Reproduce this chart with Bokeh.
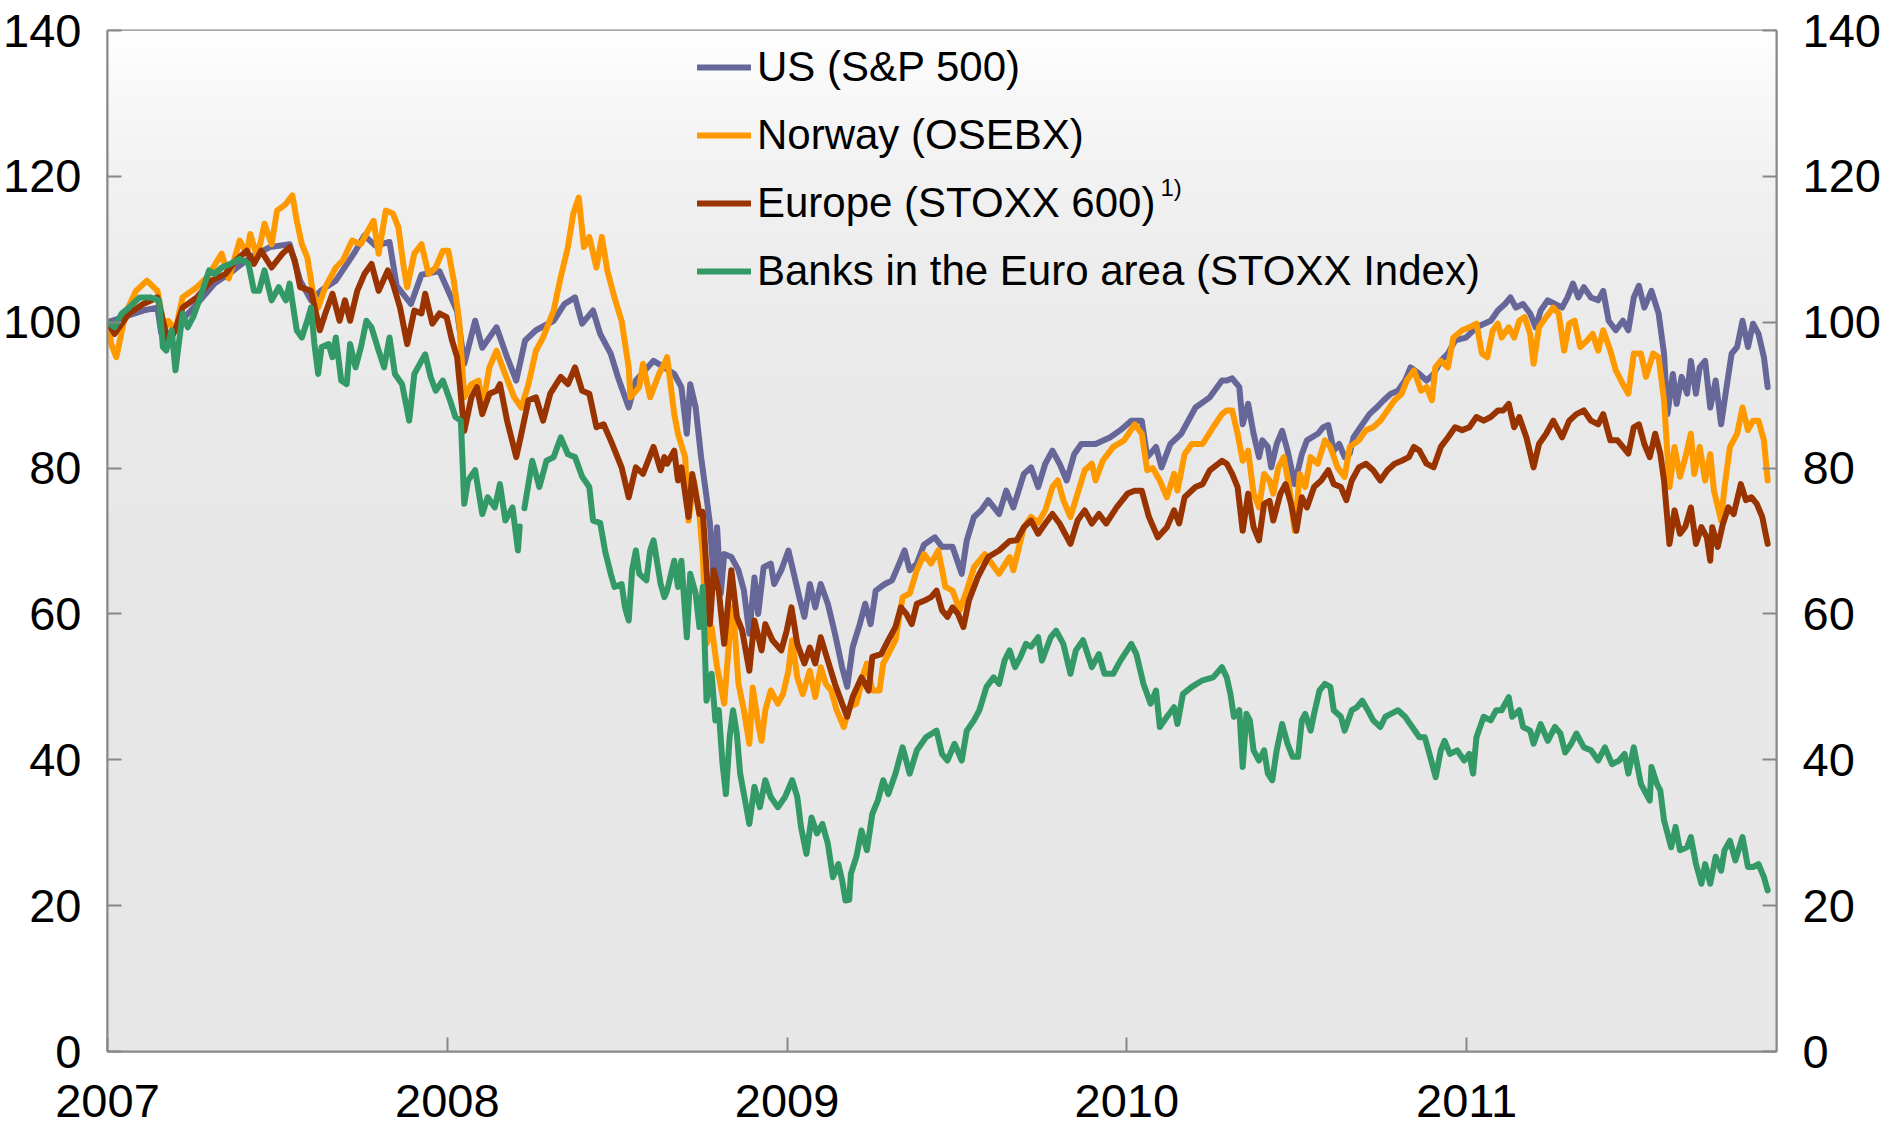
import numpy as np
from bokeh.plotting import figure
from bokeh.models import (Range1d, LinearAxis, FixedTicker, Legend, LegendItem, Label)
from bokeh.embed import file_html
from bokeh.resources import INLINE

nan = float("nan")

# ---------------- data (decimal years, index values) ----------------
us_t = [2007.000, 2007.053, 2007.105, 2007.147, 2007.158, 2007.173, 2007.194, 2007.263, 2007.315, 2007.368,
        2007.420, 2007.478, 2007.536, 2007.567, 2007.599, 2007.630, 2007.672, 2007.725, 2007.756, 2007.788,
        2007.830, 2007.851, 2007.893, 2007.924, 2007.977, 2007.998, 2008.029, 2008.050, 2008.082, 2008.103,
        2008.145, 2008.176, 2008.203, 2008.229, 2008.261, 2008.313, 2008.345, 2008.376, 2008.397, 2008.429,
        2008.450, 2008.481, 2008.502, 2008.534, 2008.555, 2008.607, 2008.639, 2008.668, 2008.689, 2008.705,
        2008.715, 2008.731, 2008.747, 2008.763, 2008.773, 2008.784, 2008.794, 2008.805, 2008.815, 2008.836,
        2008.857, 2008.873, 2008.889, 2008.904, 2008.915, 2008.931, 2008.952, 2008.962, 2008.983, 2009.004,
        2009.036, 2009.051, 2009.067, 2009.083, 2009.099, 2009.120, 2009.141, 2009.162, 2009.177, 2009.193,
        2009.214, 2009.230, 2009.246, 2009.261, 2009.288, 2009.309, 2009.330, 2009.346, 2009.361, 2009.382,
        2009.403, 2009.435, 2009.456, 2009.487, 2009.514, 2009.529, 2009.550, 2009.571, 2009.592, 2009.624,
        2009.645, 2009.666, 2009.697, 2009.718, 2009.739, 2009.760, 2009.781, 2009.802, 2009.823, 2009.845,
        2009.866, 2009.908, 2009.950, 2009.981, 2010.013, 2010.044, 2010.060, 2010.086, 2010.102, 2010.128,
        2010.160, 2010.202, 2010.244, 2010.280, 2010.294, 2010.310, 2010.331, 2010.341, 2010.357, 2010.373,
        2010.389, 2010.399, 2010.415, 2010.425, 2010.441, 2010.457, 2010.473, 2010.494, 2010.515, 2010.530,
        2010.562, 2010.578, 2010.593, 2010.609, 2010.625, 2010.641, 2010.656, 2010.667, 2010.693, 2010.714,
        2010.735, 2010.756, 2010.777, 2010.798, 2010.819, 2010.835, 2010.861, 2010.882, 2010.903, 2010.924,
        2010.945, 2010.966, 2010.998, 2011.029, 2011.071, 2011.092, 2011.113, 2011.129, 2011.145, 2011.166,
        2011.187, 2011.203, 2011.218, 2011.239, 2011.260, 2011.281, 2011.297, 2011.313, 2011.329, 2011.345,
        2011.366, 2011.387, 2011.402, 2011.418, 2011.439, 2011.460, 2011.476, 2011.492, 2011.507, 2011.523,
        2011.544, 2011.565, 2011.581, 2011.591, 2011.607, 2011.618, 2011.633, 2011.649, 2011.660, 2011.675,
        2011.686, 2011.702, 2011.717, 2011.733, 2011.749, 2011.765, 2011.780, 2011.796, 2011.812, 2011.828,
        2011.843, 2011.859, 2011.875, 2011.886]
us_v = [100.0, 100.8, 101.6, 102.0, 98.5, 98.0, 99.0, 102.5, 105.3, 107.0,
        108.9, 110.3, 110.7, 105.7, 103.0, 104.4, 105.7, 109.4, 111.9, 110.5,
        111.0, 105.0, 102.5, 106.5, 107.0, 104.8, 101.5, 94.3, 100.2, 96.5,
        99.3, 95.2, 92.0, 97.5, 98.9, 100.2, 102.5, 103.4, 99.8, 101.6,
        98.4, 95.7, 92.5, 88.3, 92.0, 94.7, 93.8, 92.9, 91.1, 84.7,
        91.5, 88.3, 81.5, 76.0, 72.4, 65.0, 71.9, 62.8, 68.2, 67.8,
        66.0, 63.2, 57.3, 65.0, 60.0, 66.4, 66.9, 64.1, 66.0, 68.7,
        62.3, 59.6, 64.1, 60.9, 64.1, 61.4, 57.3, 52.7, 50.0, 55.4,
        58.6, 61.4, 58.6, 63.2, 64.1, 64.6, 66.9, 68.7, 66.0, 66.9,
        69.5, 70.5, 69.2, 69.2, 65.5, 70.1, 73.3, 74.2, 75.6, 73.7,
        76.9, 74.6, 79.2, 80.1, 77.4, 80.6, 82.4, 80.6, 78.3, 81.9,
        83.3, 83.3, 84.2, 85.2, 86.5, 86.5, 81.5, 82.9, 80.1, 83.3,
        84.7, 88.3, 89.7, 92.0, 92.0, 92.3, 91.1, 86.0, 88.8, 84.7,
        81.5, 83.8, 82.9, 80.1, 83.3, 85.1, 82.4, 77.8, 81.9, 83.8,
        84.7, 85.6, 85.9, 82.4, 83.3, 81.5, 82.0, 84.2, 86.0, 87.4,
        88.3, 89.3, 90.2, 90.6, 92.0, 93.8, 92.9, 92.0, 92.9, 94.7,
        95.7, 97.5, 97.9, 99.3, 100.2, 101.6, 102.5, 103.4, 102.0, 102.5,
        101.2, 99.3, 101.6, 103.0, 102.5, 102.0, 103.4, 105.3, 103.4, 104.8,
        103.4, 103.0, 104.3, 100.2, 98.9, 100.2, 98.9, 103.4, 105.0, 102.0,
        104.3, 101.2, 95.7, 87.4, 92.9, 88.8, 92.5, 90.2, 94.7, 90.2,
        93.8, 94.7, 88.3, 92.0, 86.0, 91.1, 95.7, 96.6, 100.2, 96.6,
        99.8, 98.4, 95.2, 91.1]

no_t = [2007.000, 2007.011, 2007.026, 2007.053, 2007.084, 2007.116, 2007.147, 2007.168, 2007.179, 2007.200,
        2007.221, 2007.263, 2007.294, 2007.336, 2007.357, 2007.389, 2007.410, 2007.420, 2007.441, 2007.462,
        2007.483, 2007.499, 2007.525, 2007.544, 2007.557, 2007.572, 2007.588, 2007.604, 2007.620, 2007.641,
        2007.672, 2007.693, 2007.720, 2007.746, 2007.767, 2007.783, 2007.798, 2007.819, 2007.840, 2007.856,
        2007.872, 2007.882, 2007.903, 2007.924, 2007.945, 2007.966, 2007.987, 2008.003, 2008.019, 2008.035,
        2008.050, 2008.071, 2008.092, 2008.103, 2008.124, 2008.145, 2008.166, 2008.197, 2008.218, 2008.239,
        2008.261, 2008.282, 2008.313, 2008.334, 2008.355, 2008.371, 2008.387, 2008.402, 2008.418, 2008.439,
        2008.455, 2008.471, 2008.492, 2008.513, 2008.534, 2008.539, 2008.565, 2008.576, 2008.597, 2008.623,
        2008.639, 2008.647, 2008.668, 2008.679, 2008.700, 2008.710, 2008.726, 2008.742, 2008.752, 2008.763,
        2008.778, 2008.794, 2008.815, 2008.831, 2008.841, 2008.857, 2008.873, 2008.889, 2008.899, 2008.915,
        2008.925, 2008.936, 2008.952, 2008.973, 2008.988, 2009.004, 2009.015, 2009.030, 2009.046, 2009.067,
        2009.083, 2009.099, 2009.114, 2009.130, 2009.146, 2009.167, 2009.183, 2009.204, 2009.225, 2009.235,
        2009.251, 2009.272, 2009.283, 2009.298, 2009.319, 2009.340, 2009.361, 2009.382, 2009.403, 2009.424,
        2009.445, 2009.466, 2009.487, 2009.508, 2009.529, 2009.550, 2009.582, 2009.624, 2009.655, 2009.666,
        2009.697, 2009.718, 2009.739, 2009.760, 2009.781, 2009.797, 2009.813, 2009.834, 2009.855, 2009.876,
        2009.897, 2009.908, 2009.929, 2009.960, 2009.992, 2010.023, 2010.044, 2010.060, 2010.076, 2010.097,
        2010.118, 2010.139, 2010.149, 2010.170, 2010.191, 2010.223, 2010.254, 2010.280, 2010.294, 2010.310,
        2010.326, 2010.341, 2010.357, 2010.373, 2010.389, 2010.404, 2010.420, 2010.431, 2010.446, 2010.462,
        2010.478, 2010.494, 2010.509, 2010.525, 2010.541, 2010.562, 2010.583, 2010.599, 2010.620, 2010.641,
        2010.656, 2010.683, 2010.704, 2010.725, 2010.746, 2010.767, 2010.788, 2010.809, 2010.824, 2010.845,
        2010.866, 2010.882, 2010.898, 2010.908, 2010.924, 2010.945, 2010.961, 2010.987, 2011.008, 2011.029,
        2011.045, 2011.061, 2011.077, 2011.092, 2011.103, 2011.124, 2011.140, 2011.155, 2011.171, 2011.187,
        2011.197, 2011.213, 2011.234, 2011.255, 2011.271, 2011.287, 2011.302, 2011.318, 2011.334, 2011.355,
        2011.371, 2011.387, 2011.402, 2011.423, 2011.439, 2011.460, 2011.476, 2011.492, 2011.513, 2011.528,
        2011.549, 2011.565, 2011.581, 2011.597, 2011.612, 2011.628, 2011.644, 2011.660, 2011.670, 2011.686,
        2011.702, 2011.717, 2011.728, 2011.749, 2011.759, 2011.775, 2011.796, 2011.812, 2011.828, 2011.843,
        2011.859, 2011.875, 2011.886]
no_v = [100.0, 97.0, 95.2, 101.2, 104.3, 105.7, 104.3, 98.9, 100.2, 98.9,
        103.4, 104.8, 106.2, 109.4, 106.0, 111.2, 109.4, 112.1, 108.9, 113.5,
        110.7, 115.3, 116.2, 117.4, 113.9, 110.7, 108.9, 104.3, 102.0, 104.8,
        107.5, 108.5, 111.2, 110.7, 112.6, 113.9, 109.4, 115.3, 114.9, 113.0,
        107.5, 104.8, 109.4, 110.7, 106.6, 107.5, 109.8, 109.8, 105.7, 100.2,
        89.7, 91.5, 92.0, 88.3, 93.8, 96.1, 93.4, 89.7, 88.3, 91.5,
        96.1, 97.9, 101.6, 106.2, 110.3, 114.9, 117.1, 110.3, 111.7, 107.5,
        111.7, 107.1, 103.4, 100.2, 93.8, 89.7, 91.1, 94.3, 89.7, 92.9,
        94.3, 95.2, 87.4, 84.7, 81.5, 72.8, 78.3, 73.7, 68.0, 55.9,
        58.2, 52.7, 47.7, 57.3, 60.9, 50.4, 46.8, 42.2, 49.9, 44.9,
        42.6, 46.8, 49.5, 47.7, 49.0, 52.2, 56.4, 51.3, 49.0, 52.2,
        48.6, 52.7, 50.4, 49.5, 46.8, 44.5, 47.2, 47.7, 51.8, 53.2,
        49.5, 49.5, 53.2, 54.5, 56.4, 62.3, 62.8, 66.0, 68.2, 66.9,
        68.7, 63.7, 63.2, 60.5, 63.2, 66.4, 68.2, 65.5, 67.8, 66.0,
        71.9, 73.3, 72.5, 74.2, 77.4, 78.3, 75.6, 73.3, 76.5, 79.7,
        80.6, 78.3, 81.0, 82.9, 83.8, 86.0, 84.7, 79.7, 80.0, 78.3,
        76.0, 79.2, 76.9, 81.9, 83.3, 83.3, 85.6, 87.4, 87.9, 87.9,
        84.7, 81.0, 82.4, 76.5, 74.6, 79.2, 78.3, 76.5, 80.1, 81.5,
        77.4, 71.4, 79.2, 77.4, 81.5, 80.6, 83.8, 82.9, 80.1, 78.8,
        82.9, 83.8, 85.2, 85.6, 86.5, 87.9, 89.3, 90.2, 92.0, 93.4,
        90.6, 91.1, 89.3, 93.8, 94.7, 93.8, 97.9, 98.9, 99.3, 99.8,
        95.7, 95.2, 98.9, 99.8, 97.9, 99.3, 97.9, 100.2, 100.7, 98.4,
        94.3, 99.3, 100.7, 102.0, 101.2, 96.1, 99.8, 100.2, 96.6, 97.5,
        98.4, 96.1, 98.9, 96.1, 93.4, 91.5, 90.2, 95.7, 95.7, 92.5,
        95.7, 95.2, 89.3, 77.4, 82.9, 78.8, 81.5, 84.7, 79.2, 82.9,
        78.3, 81.9, 76.9, 72.8, 77.4, 82.9, 84.7, 88.3, 85.2, 86.5,
        86.5, 83.8, 78.3]

eu_t = [2007.000, 2007.021, 2007.063, 2007.105, 2007.147, 2007.168, 2007.179, 2007.200, 2007.221, 2007.263,
        2007.305, 2007.347, 2007.378, 2007.410, 2007.431, 2007.452, 2007.483, 2007.515, 2007.536, 2007.551,
        2007.567, 2007.599, 2007.625, 2007.641, 2007.662, 2007.683, 2007.699, 2007.714, 2007.735, 2007.756,
        2007.777, 2007.798, 2007.825, 2007.840, 2007.861, 2007.882, 2007.903, 2007.924, 2007.935, 2007.956,
        2007.977, 2007.998, 2008.014, 2008.029, 2008.050, 2008.071, 2008.087, 2008.103, 2008.124, 2008.145,
        2008.155, 2008.176, 2008.203, 2008.218, 2008.239, 2008.261, 2008.282, 2008.303, 2008.334, 2008.355,
        2008.376, 2008.397, 2008.418, 2008.439, 2008.460, 2008.481, 2008.513, 2008.534, 2008.555, 2008.576,
        2008.607, 2008.628, 2008.639, 2008.647, 2008.668, 2008.679, 2008.689, 2008.710, 2008.721, 2008.742,
        2008.752, 2008.763, 2008.773, 2008.784, 2008.799, 2008.815, 2008.836, 2008.852, 2008.868, 2008.889,
        2008.904, 2008.925, 2008.936, 2008.957, 2008.983, 2008.999, 2009.013, 2009.030, 2009.051, 2009.067,
        2009.083, 2009.099, 2009.120, 2009.141, 2009.162, 2009.177, 2009.193, 2009.219, 2009.240, 2009.251,
        2009.277, 2009.298, 2009.319, 2009.335, 2009.351, 2009.367, 2009.382, 2009.403, 2009.424, 2009.440,
        2009.456, 2009.472, 2009.487, 2009.503, 2009.519, 2009.535, 2009.561, 2009.592, 2009.624, 2009.655,
        2009.676, 2009.697, 2009.718, 2009.739, 2009.760, 2009.781, 2009.802, 2009.834, 2009.855, 2009.876,
        2009.897, 2009.918, 2009.939, 2009.970, 2010.002, 2010.023, 2010.044, 2010.065, 2010.091, 2010.118,
        2010.139, 2010.154, 2010.170, 2010.202, 2010.223, 2010.244, 2010.280, 2010.294, 2010.310, 2010.326,
        2010.341, 2010.357, 2010.373, 2010.389, 2010.404, 2010.420, 2010.431, 2010.452, 2010.467, 2010.483,
        2010.499, 2010.515, 2010.530, 2010.551, 2010.572, 2010.593, 2010.609, 2010.630, 2010.646, 2010.662,
        2010.683, 2010.704, 2010.725, 2010.746, 2010.767, 2010.788, 2010.809, 2010.830, 2010.845, 2010.861,
        2010.882, 2010.903, 2010.924, 2010.945, 2010.966, 2010.987, 2011.008, 2011.029, 2011.050, 2011.071,
        2011.092, 2011.108, 2011.124, 2011.140, 2011.155, 2011.176, 2011.197, 2011.213, 2011.234, 2011.255,
        2011.281, 2011.302, 2011.323, 2011.345, 2011.366, 2011.387, 2011.402, 2011.423, 2011.444, 2011.460,
        2011.476, 2011.492, 2011.507, 2011.523, 2011.539, 2011.555, 2011.570, 2011.581, 2011.597, 2011.612,
        2011.628, 2011.644, 2011.660, 2011.675, 2011.691, 2011.707, 2011.717, 2011.723, 2011.739, 2011.754,
        2011.770, 2011.786, 2011.807, 2011.822, 2011.838, 2011.854, 2011.870, 2011.886]
eu_v = [100.0, 98.4, 101.2, 102.5, 103.4, 99.3, 97.0, 99.0, 102.0, 103.4,
        105.7, 106.6, 108.5, 109.8, 108.0, 109.8, 107.5, 109.4, 110.3, 108.5,
        104.8, 104.3, 98.9, 101.2, 103.9, 100.2, 103.0, 100.2, 104.3, 106.6,
        108.0, 104.3, 107.1, 105.3, 102.0, 97.0, 101.6, 101.2, 103.9, 99.8,
        101.2, 100.7, 97.5, 95.2, 85.1, 89.7, 91.1, 87.4, 90.2, 90.6,
        91.5, 86.5, 81.5, 84.7, 89.3, 89.7, 86.5, 90.2, 92.5, 91.5,
        93.8, 90.6, 90.2, 85.6, 86.0, 83.8, 80.1, 76.0, 80.1, 79.2,
        82.9, 79.7, 81.5, 80.6, 82.4, 78.3, 80.1, 73.3, 79.2, 73.7,
        74.0, 66.0, 58.6, 66.0, 63.2, 55.9, 66.0, 59.6, 57.7, 52.2,
        59.1, 55.0, 58.6, 56.4, 55.0, 57.7, 60.9, 55.9, 53.2, 55.4,
        53.2, 56.8, 53.6, 50.4, 47.7, 45.9, 48.6, 51.3, 49.5, 54.1,
        54.5, 56.4, 58.2, 60.9, 60.0, 58.6, 61.4, 61.8, 62.3, 63.2,
        60.5, 59.6, 60.9, 60.0, 58.2, 61.8, 65.0, 67.8, 68.7, 70.0,
        70.1, 71.9, 72.8, 71.0, 72.4, 73.7, 72.4, 69.6, 72.8, 74.2,
        72.4, 73.7, 72.4, 74.6, 76.5, 76.9, 76.9, 73.3, 70.5, 71.9,
        74.2, 72.4, 76.0, 77.4, 77.8, 79.7, 81.0, 80.6, 79.2, 77.4,
        71.4, 76.5, 71.9, 70.1, 75.1, 75.5, 72.8, 76.5, 77.8, 75.1,
        71.4, 76.0, 74.6, 77.4, 78.3, 79.7, 77.8, 77.4, 75.6, 78.3,
        80.1, 80.6, 79.7, 78.3, 79.7, 80.6, 81.0, 81.5, 82.9, 82.4,
        80.6, 80.1, 82.9, 84.2, 85.6, 85.2, 85.6, 87.0, 86.5, 87.0,
        87.9, 87.9, 88.8, 85.6, 87.0, 84.2, 80.1, 83.3, 84.7, 86.5,
        84.2, 86.5, 87.4, 87.9, 86.5, 86.0, 87.4, 83.8, 83.8, 82.9,
        82.0, 85.6, 86.0, 83.3, 81.5, 84.7, 82.0, 78.3, 69.6, 74.2,
        71.0, 72.0, 74.6, 69.6, 71.9, 70.5, 67.3, 71.9, 69.2, 72.3,
        74.6, 73.7, 77.8, 75.6, 76.0, 75.1, 73.3, 69.6]

bk_t = [2007.000, 2007.021, 2007.042, 2007.063, 2007.095, 2007.126, 2007.152, 2007.163, 2007.173, 2007.189,
        2007.200, 2007.221, 2007.236, 2007.252, 2007.273, 2007.299, 2007.315, 2007.336, 2007.362, 2007.389,
        2007.415, 2007.431, 2007.446, 2007.462, 2007.483, 2007.504, 2007.525, 2007.536, 2007.557, 2007.572,
        2007.588, 2007.599, 2007.609, 2007.620, 2007.630, 2007.651, 2007.662, 2007.672, 2007.688, 2007.704,
        2007.714, 2007.730, 2007.746, 2007.762, 2007.777, 2007.798, 2007.814, 2007.830, 2007.846, 2007.867,
        2007.888, 2007.903, 2007.924, 2007.935, 2007.951, 2007.966, 2007.987, 2008.008, 2008.024, 2008.040,
        2008.050, 2008.061, 2008.082, 2008.103, 2008.119, 2008.140, 2008.155, 2008.171, 2008.192, 2008.208,
        2008.213, 2008.220, 2008.227, 2008.250, 2008.271, 2008.292, 2008.313, 2008.334, 2008.355, 2008.376,
        2008.397, 2008.418, 2008.429, 2008.450, 2008.465, 2008.481, 2008.492, 2008.513, 2008.523, 2008.534,
        2008.544, 2008.555, 2008.565, 2008.586, 2008.597, 2008.607, 2008.628, 2008.639, 2008.647, 2008.668,
        2008.679, 2008.689, 2008.705, 2008.715, 2008.731, 2008.742, 2008.752, 2008.763, 2008.778, 2008.789,
        2008.799, 2008.810, 2008.820, 2008.831, 2008.841, 2008.852, 2008.862, 2008.878, 2008.889, 2008.904,
        2008.920, 2008.936, 2008.952, 2008.973, 2008.994, 2009.015, 2009.030, 2009.041, 2009.057, 2009.072,
        2009.088, 2009.104, 2009.120, 2009.135, 2009.151, 2009.162, 2009.172, 2009.183, 2009.188, 2009.204,
        2009.219, 2009.235, 2009.251, 2009.267, 2009.283, 2009.298, 2009.319, 2009.340, 2009.361, 2009.382,
        2009.409, 2009.440, 2009.456, 2009.472, 2009.493, 2009.514, 2009.529, 2009.550, 2009.566, 2009.587,
        2009.608, 2009.624, 2009.640, 2009.655, 2009.671, 2009.687, 2009.703, 2009.718, 2009.739, 2009.750,
        2009.776, 2009.792, 2009.813, 2009.834, 2009.850, 2009.871, 2009.897, 2009.918, 2009.934, 2009.960,
        2009.981, 2010.013, 2010.028, 2010.049, 2010.070, 2010.086, 2010.097, 2010.118, 2010.139, 2010.149,
        2010.165, 2010.191, 2010.223, 2010.254, 2010.280, 2010.294, 2010.305, 2010.315, 2010.331, 2010.341,
        2010.352, 2010.362, 2010.373, 2010.389, 2010.404, 2010.415, 2010.428, 2010.441, 2010.457, 2010.473,
        2010.488, 2010.504, 2010.515, 2010.525, 2010.541, 2010.551, 2010.567, 2010.583, 2010.599, 2010.609,
        2010.630, 2010.641, 2010.662, 2010.677, 2010.693, 2010.709, 2010.725, 2010.746, 2010.761, 2010.777,
        2010.798, 2010.819, 2010.840, 2010.861, 2010.877, 2010.893, 2010.909, 2010.924, 2010.935, 2010.951,
        2010.972, 2010.993, 2011.008, 2011.019, 2011.029, 2011.050, 2011.071, 2011.087, 2011.103, 2011.124,
        2011.134, 2011.155, 2011.166, 2011.187, 2011.197, 2011.218, 2011.239, 2011.260, 2011.276, 2011.290,
        2011.308, 2011.323, 2011.345, 2011.366, 2011.387, 2011.407, 2011.428, 2011.449, 2011.465, 2011.476,
        2011.492, 2011.513, 2011.523, 2011.539, 2011.544, 2011.560, 2011.570, 2011.581, 2011.602, 2011.615,
        2011.628, 2011.649, 2011.660, 2011.675, 2011.691, 2011.702, 2011.717, 2011.733, 2011.749, 2011.759,
        2011.775, 2011.791, 2011.812, 2011.828, 2011.843, 2011.859, 2011.875, 2011.886]
bk_v = [100.0, 99.3, 101.2, 102.0, 103.4, 103.4, 103.0, 96.6, 96.1, 98.9,
        93.4, 101.2, 99.3, 100.7, 103.4, 107.1, 106.6, 107.5, 108.0, 108.7,
        108.0, 104.3, 104.3, 107.1, 103.0, 104.8, 103.0, 105.3, 98.9, 97.9,
        100.2, 102.0, 97.0, 92.9, 96.6, 97.0, 95.2, 97.9, 92.0, 91.5,
        97.0, 93.8, 96.6, 100.2, 99.3, 96.1, 93.8, 97.9, 92.9, 91.5,
        86.5, 92.9, 94.7, 95.6, 92.5, 90.6, 92.0, 89.3, 87.0, 86.5,
        75.1, 78.3, 79.7, 73.7, 76.0, 74.6, 77.8, 72.8, 74.6, 68.7,
        72.0, nan, 74.5, 81.0, 77.4, 81.0, 81.5, 84.2, 81.9, 81.5,
        78.8, 77.4, 72.8, 72.5, 68.5, 65.5, 63.7, 64.1, 60.9, 59.1,
        66.0, 68.7, 65.5, 64.6, 68.7, 70.1, 64.1, 62.3, 63.2, 67.3,
        63.7, 67.3, 56.8, 65.5, 62.8, 58.2, 63.7, 48.1, 51.8, 45.4,
        46.8, 39.5, 35.3, 43.1, 46.8, 43.6, 38.1, 34.0, 31.2, 36.3,
        33.5, 37.2, 34.9, 33.5, 34.9, 37.2, 34.9, 30.8, 27.1, 32.1,
        29.9, 31.2, 28.5, 23.9, 25.7, 23.5, 20.7, 20.8, 24.4, 26.7,
        30.3, 27.6, 32.6, 34.4, 37.2, 35.3, 38.1, 41.7, 38.1, 41.3,
        43.1, 44.0, 40.8, 39.9, 42.2, 39.9, 44.0, 45.4, 46.8, 50.0,
        51.3, 50.4, 53.6, 55.0, 52.7, 54.1, 55.9, 55.5, 56.8, 53.6,
        56.8, 57.7, 55.9, 51.8, 55.0, 56.4, 52.7, 54.5, 51.8, 51.8,
        53.6, 55.9, 54.5, 50.4, 47.7, 49.5, 44.5, 45.9, 47.2, 44.9,
        49.0, 50.0, 50.9, 51.3, 52.7, 51.3, 49.0, 45.9, 46.8, 39.0,
        46.3, 45.4, 41.3, 39.9, 41.3, 38.1, 37.2, 41.3, 44.9, 42.2,
        40.4, 40.4, 45.4, 46.3, 44.0, 46.3, 49.5, 50.4, 50.0, 46.8,
        45.9, 44.0, 46.8, 47.2, 48.1, 46.8, 45.4, 44.5, 45.9, 46.3,
        46.8, 45.9, 44.5, 43.1, 43.1, 40.4, 37.6, 41.3, 42.6, 40.8,
        41.3, 39.9, 40.8, 38.1, 43.1, 45.9, 45.4, 46.8, 46.8, 48.6,
        45.9, 46.8, 44.5, 44.0, 42.2, 44.9, 42.6, 44.5, 43.6, 41.0,
        42.2, 43.6, 41.7, 41.3, 39.9, 41.7, 39.4, 39.9, 40.8, 38.1,
        41.7, 36.7, 35.8, 34.4, 39.0, 36.7, 35.8, 31.7, 28.0, 30.8,
        27.6, 28.0, 29.4, 25.7, 23.0, 25.7, 23.0, 26.7, 24.8, 27.6,
        28.9, 26.2, 29.4, 25.3, 25.3, 25.7, 23.9, 22.1]

labels = ["US (S&P 500)", "Norway (OSEBX)", "Europe (STOXX 600)",
          "Banks in the Euro area (STOXX Index)"]
footnote = "1)"
y_ticks = [0, 20, 40, 60, 80, 100, 120, 140]
x_ticks = [2007, 2008, 2009, 2010, 2011]

# ---------------- styling / layout ----------------
colors = ["#666699", "#FF9900", "#993300", "#339966"]
FONT = "Liberation Sans"
GREY = "#888888"
X0, X1 = 2007.0, 2011.912
Y0, Y1 = 0, 140
FRAME_H = 1021
PX_Y = (Y1 - Y0) / FRAME_H  # data units per pixel (vertical)

p = figure(width=1883, height=1131, x_range=Range1d(X0, X1), y_range=Range1d(Y0, Y1),
           output_backend="svg", toolbar_location=None,
           min_border_left=107, min_border_right=106, min_border_top=30, min_border_bottom=80)
p.grid.visible = False
p.background_fill_color = "#e7e7e7"
p.border_fill_color = "white"
p.outline_line_color = GREY
p.outline_line_width = 2

# vertical gradient of the plotting area (white at top to light grey)
N = 400
frac_from_top = 1.0 - (np.arange(N) + 0.5) / N
shade = (231 + 24 * (1.0 - frac_from_top) ** 5).astype(np.uint8)
img = np.zeros((N, 1), dtype=np.uint32)
view = img.view(dtype=np.uint8).reshape((N, 1, 4))
view[:, 0, 0] = shade
view[:, 0, 1] = shade
view[:, 0, 2] = shade
view[:, 0, 3] = 255
p.image_rgba(image=[img], x=X0, y=Y0, dw=X1 - X0, dh=Y1 - Y0)

right_axis = LinearAxis()
p.add_layout(right_axis, "right")
for ax in [p.xaxis[0], p.yaxis[0], right_axis]:
    ax.axis_line_color = GREY
    ax.axis_line_width = 2
    ax.major_tick_in = 14
    ax.major_tick_out = 0
    ax.major_tick_line_color = GREY
    ax.major_tick_line_width = 2
    ax.minor_tick_line_color = None
    ax.major_label_text_font = FONT
    ax.major_label_text_font_size = "47px"
    ax.major_label_text_color = "black"
p.yaxis[0].major_label_standoff = 26
right_axis.major_label_standoff = 26
p.xaxis[0].major_label_standoff = 33
p.xaxis[0].ticker = FixedTicker(ticks=x_ticks)
p.yaxis[0].ticker = FixedTicker(ticks=y_ticks)
right_axis.ticker = FixedTicker(ticks=y_ticks)
p.xaxis[0].major_label_overrides = {yr: str(yr) for yr in x_ticks}

series = [(us_t, us_v), (no_t, no_v), (eu_t, eu_v), (bk_t, bk_v)]
renderers = []
for (t, v), c in zip(series, colors):
    r = p.line(t, v, line_color=c, line_width=6, line_join="round", line_cap="round")
    renderers.append(r)

legend = Legend(items=[LegendItem(label=l, renderers=[r]) for l, r in zip(labels, renderers)],
                location=(590, 746), orientation="vertical",
                glyph_width=54, glyph_height=68, label_height=68, label_standoff=6,
                spacing=0, padding=0, margin=0,
                border_line_alpha=0, background_fill_alpha=0,
                label_text_font=FONT, label_text_font_size="42px", label_text_color="black")
p.add_layout(legend)

# footnote marker after "Europe (STOXX 600)"
p.add_layout(Label(x=X0, y=Y1 - (187 - 30) * PX_Y, x_offset=1053, text=footnote,
                   text_font=FONT, text_font_size="24px", text_align="left",
                   text_baseline="alphabetic", text_color="black"))

open("out.html", "w").write(file_html(p, INLINE))
